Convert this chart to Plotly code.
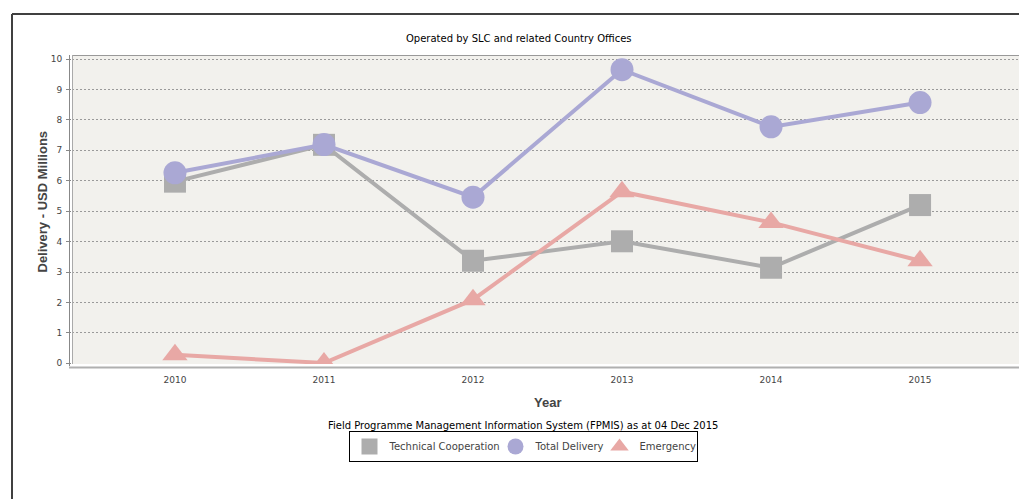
import plotly.graph_objects as go

# Delivery by year, USD millions
years = ["2010", "2011", "2012", "2013", "2014", "2015"]
technical_cooperation = [5.97, 7.18, 3.37, 4.01, 3.14, 5.20]
total_delivery = [6.26, 7.19, 5.46, 9.65, 7.77, 8.57]
emergency = [0.28, 0.01, 2.09, 5.64, 4.63, 3.37]
y_ticks = list(range(0, 11))

W, H = 1019, 499
L, R, T, B = 72, 0, 55, 135
PW, PH = W - L - R, H - T - B


def px_x(px):
    return (px - L) / PW


def px_y(py):
    return (H - B - py) / PH


TXT = "#444444"
SMALL = "DejaVu Sans"

fig = go.Figure()
series = [
    ("Technical Cooperation", technical_cooperation, "#adadad", "square", 22, 101),
    ("Total Delivery", total_delivery, "#aaa8d4", "circle", 23, 59),
    ("Emergency", emergency, "#e8a8a5", "triangle-up", 22, 52),
]
for name, vals, col, sym, size, _ in series:
    fig.add_trace(go.Scatter(
        x=list(range(len(years))), y=vals, name=name, mode="lines+markers",
        line=dict(color=col, width=4), showlegend=False,
        marker=dict(color=col, symbol=sym, size=size, line=dict(width=0)),
    ))
# legend entries show the marker shape only
for name, vals, col, sym, size, lw in series:
    fig.add_trace(go.Scatter(
        x=[None], y=[None], name=name, mode="markers", legendwidth=lw,
        marker=dict(color=col, symbol=sym, size=size, line=dict(width=0)),
    ))

fig.update_layout(
    width=W, height=H,
    margin=dict(l=L, r=R, t=T, b=B),
    paper_bgcolor="white", plot_bgcolor="#f2f1ed",
    showlegend=True,
    legend=dict(
        orientation="h", x=px_x(523), y=px_y(431), xanchor="center", yanchor="top",
        bordercolor="black", borderwidth=1, bgcolor="white",
        font=dict(family=SMALL, size=10, color=TXT), itemsizing="trace",
        itemwidth=30, tracegroupgap=0,
    ),
    xaxis=dict(
        range=[-0.691, 5.664], tickmode="array",
        tickvals=list(range(len(years))), ticktext=years,
        showgrid=False, zeroline=False, showline=False, ticks="",
        tickfont=dict(family=SMALL, size=9, color=TXT), ticklabelstandoff=9,
    ),
    yaxis=dict(
        range=[-0.023, 10.132], tickmode="array", tickvals=y_ticks,
        showgrid=True, gridcolor="#9a9a9a", gridwidth=1, griddash="2px,2px",
        zeroline=False, showline=False, ticks="outside", ticklen=5,
        tickcolor="#888888", tickfont=dict(family=SMALL, size=9, color=TXT),
        ticklabelstandoff=2,
    ),
)

shapes = [
    # outer frame
    dict(x0=px_x(12), x1=px_x(1019), y0=px_y(14), y1=px_y(14),
         line=dict(color="#404040", width=2)),
    dict(x0=px_x(12), x1=px_x(12), y0=px_y(14), y1=px_y(499),
         line=dict(color="#404040", width=2)),
    # plot outline
    dict(x0=px_x(72), x1=px_x(1019), y0=px_y(55.5), y1=px_y(55.5),
         line=dict(color="#999999", width=1)),
    dict(x0=px_x(72.5), x1=px_x(72.5), y0=px_y(55), y1=px_y(364),
         line=dict(color="#aaaaaa", width=1)),
    # axis lines
    dict(x0=px_x(69.5), x1=px_x(69.5), y0=px_y(55), y1=px_y(366),
         line=dict(color="#888888", width=1)),
    dict(x0=px_x(69), x1=px_x(1019), y0=px_y(367.5), y1=px_y(367.5),
         line=dict(color="#b0b0b0", width=2)),
]
for s in shapes:
    s.update(type="line", xref="paper", yref="paper", layer="above")
fig.update_layout(shapes=shapes)

annotations = [
    dict(text="Operated by SLC and related Country Offices", x=px_x(519), y=px_y(39),
         font=dict(family=SMALL, size=10, color="black")),
    dict(text="Field Programme Management Information System (FPMIS) as at 04 Dec 2015",
         x=px_x(523), y=px_y(425), font=dict(family=SMALL, size=10, color="black")),
    dict(text="<b>Year</b>", x=px_x(547), y=px_y(402.5),
         font=dict(family="Liberation Sans", size=13, color=TXT)),
    dict(text="<b>Delivery - USD Millions</b>", x=px_x(42), y=px_y(201.5), textangle=-90,
         font=dict(family="Liberation Sans", size=13, color=TXT)),
]
for a in annotations:
    a.update(xref="paper", yref="paper", showarrow=False, xanchor="center", yanchor="middle")
fig.update_layout(annotations=annotations)

fig.write_html("out.html")
